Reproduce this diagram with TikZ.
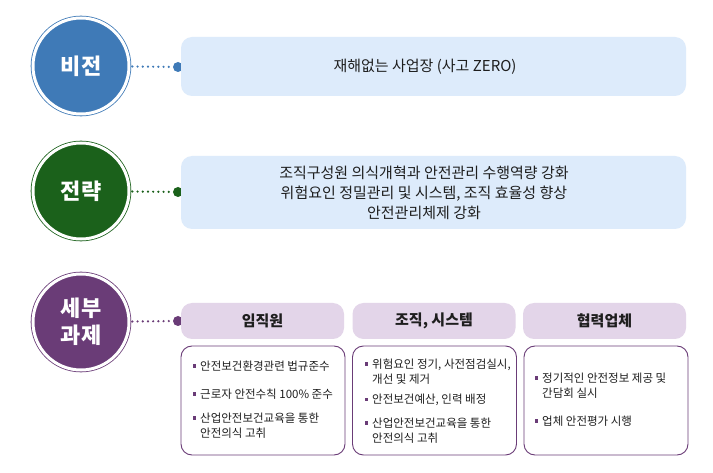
\documentclass[tikz,border=0pt]{standalone}
\usepackage{fontspec}
\setmainfont{Noto Sans CJK KR}
\usetikzlibrary{positioning}
\definecolor{visionblue}{HTML}{3F7AB7}
\definecolor{strategygreen}{HTML}{1B611B}
\definecolor{taskpurple}{HTML}{6A3C77}
\definecolor{boxblue}{HTML}{DDEBFB}
\definecolor{headpurple}{HTML}{E3D5E9}
\definecolor{inktext}{HTML}{1E1E1E}
\newcommand{\sqmark}{\makebox[7pt][l]{\textcolor{taskpurple}{\rule[2.8pt]{3.2pt}{3.2pt}}}}
\tikzset{
  goalcircle/.style={circle, fill=#1, draw=#1, double=white, double distance=3pt, line width=0.8pt, minimum size=96pt, inner sep=0pt, text=white, align=center, font=\fontsize{22}{27}\selectfont\bfseries},
  linkdot/.style={circle, fill=#1, minimum size=10pt, inner sep=0pt},
  linkline/.style={draw=#1, line width=2.4pt, line cap=round, dash pattern=on 0pt off 5.2pt, shorten <=3pt},
  mainbox/.style={rounded corners=11pt, fill=boxblue, minimum width=505pt},
  maintext/.style={text=inktext, align=center, font=\fontsize{15}{20}\selectfont},
  headbox/.style={rounded corners=11pt, fill=headpurple, minimum width=163pt, minimum height=36pt, text=inktext, font=\fontsize{15}{18}\selectfont\bfseries},
  listbox/.style={draw=taskpurple, line width=0.9pt, rounded corners=11pt, fill=white, minimum width=164pt, minimum height=109pt},
  listitem/.style={anchor=west, inner sep=0pt, align=left, text=inktext, font=\fontsize{11.5}{15}\selectfont}
}

\begin{document}
\begin{tikzpicture}[x=1pt, y=-1pt]
  \useasboundingbox[fill=white] (0,0) rectangle (713,473);

  \node[goalcircle=visionblue] (vision) at (81,66) {비전};
  \node[goalcircle=strategygreen] (strategy) at (81,191) {전략};
  \node[goalcircle=taskpurple] (tasks) at (81,322) {세부\\과제};

  \node[linkdot=visionblue] (visiondot) at (178,67) {};
  \node[linkdot=strategygreen] (strategydot) at (178,192) {};
  \node[linkdot=taskpurple] (tasksdot) at (178,321) {};

  \node[mainbox, minimum height=59pt] (visionbox) at (433.5,66.5) {};
  \node[mainbox, minimum height=73pt] (strategybox) at (433.5,192.5) {};
  \node[maintext] (visiontext) at (425,67) {재해없는 사업장 (사고 ZERO)};
  \node[maintext] (strategytext) at (424,193) {조직구성원 의식개혁과 안전관리 수행역량 강화\\위험요인 정밀관리 및 시스템, 조직 효율성 향상\\안전관리체제 강화};

  \node[headbox] (staffhead) at (262.5,321) {임직원};
  \node[headbox] (systemhead) at (434,321) {조직, 시스템};
  \node[headbox] (partnerhead) at (604.5,321) {협력업체};

  \node[listbox] (stafflist) at (263,400.5) {};
  \node[listbox] (systemlist) at (434.5,400.5) {};
  \node[listbox] (partnerlist) at (606,400.5) {};

  \draw[linkline=visionblue] (vision) -- (visiondot);
  \draw[linkline=strategygreen] (strategy) -- (strategydot);
  \draw[linkline=taskpurple] (tasks) -- (tasksdot);

  \node[listitem] (staffa) at (193,366) {\sqmark 안전보건환경관련 법규준수};
  \node[listitem] (staffb) at (193,394) {\sqmark 근로자 안전수칙 100\% 준수};
  \node[listitem] (staffc) at (193,425.5) {\sqmark 산업안전보건교육을 통한\\\hspace*{7pt}안전의식 고취};

  \node[listitem] (systema) at (365,371.5) {\sqmark 위험요인 정기, 사전점검실시,\\\hspace*{7pt}개선 및 제거};
  \node[listitem] (systemb) at (365,400) {\sqmark 안전보건예산, 인력 배정};
  \node[listitem] (systemc) at (365,430.5) {\sqmark 산업안전보건교육을 통한\\\hspace*{7pt}안전의식 고취};

  \node[listitem] (partnera) at (535,385.5) {\sqmark 정기적인 안전정보 제공 및\\\hspace*{7pt}간담회 실시};
  \node[listitem] (partnerb) at (535,421) {\sqmark 업체 안전평가 시행};
\end{tikzpicture}
\end{document}
